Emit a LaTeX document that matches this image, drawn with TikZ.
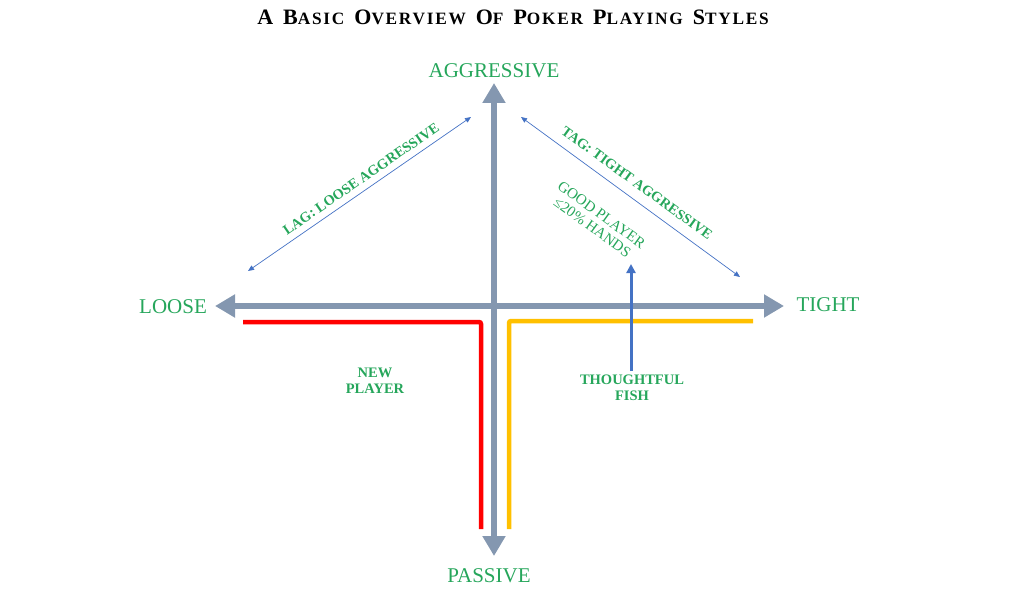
\documentclass[tikz,border=0pt]{standalone}
\usepackage{fontspec}
\setmainfont{Liberation Serif}
\usetikzlibrary{arrows.meta}
\definecolor{lblgreen}{RGB}{38,166,91}
\definecolor{axisgray}{RGB}{132,151,176}
\definecolor{linkblue}{RGB}{68,114,196}
\definecolor{newred}{RGB}{255,0,0}
\definecolor{fishgold}{RGB}{255,192,0}
\newcommand\tsc[2]{{\fontsize{22}{24}\selectfont #1}{\fontsize{17.3}{20}\selectfont #2}}
\begin{document}
\begin{tikzpicture}[x=1pt,y=-1pt,
  axis/.style={draw=axisgray,line width=6.5pt,-{Triangle[width=22pt,length=20pt]}},
  thinlink/.style={draw=linkblue,line width=0.7pt,{Triangle[width=5pt,length=6pt]}-{Triangle[width=5pt,length=6pt]}},
  bigword/.style={text=lblgreen,font=\fontsize{21}{23}\selectfont,inner sep=0pt},
  smallword/.style={text=lblgreen,font=\bfseries\fontsize{14.5}{16}\selectfont,inner sep=0pt,align=center},
  slantword/.style={text=lblgreen,font=\bfseries\fontsize{14.3}{16}\selectfont,inner sep=0pt,align=center},
  slantthin/.style={text=lblgreen,font=\fontsize{15}{15.5}\selectfont,inner sep=0pt,align=center},
  band/.style={line width=4.5pt,rounded corners=2pt}]
\useasboundingbox (0,0) rectangle (1024,599);
% title
\node[anchor=base,inner sep=0pt,font=\bfseries\fontsize{20}{24}\selectfont\addfontfeature{LetterSpace=10}] (title) at (513,25) {\tsc{A}{}\hspace{10pt}\tsc{B}{ASIC}\hspace{10pt}\tsc{O}{VERVIEW}\hspace{10pt}\tsc{O}{F}\hspace{10pt}\tsc{P}{OKER}\hspace{10pt}\tsc{P}{LAYING}\hspace{10pt}\tsc{S}{TYLES}};
% axis endpoints
\coordinate (vtop) at (494,83);
\coordinate (vbot) at (494,556);
\coordinate (hleft) at (215,306);
\coordinate (hright) at (784,306);
\coordinate (centre) at (494,306);
% coloured bands
\coordinate (r1) at (243,322);
\coordinate (r2) at (481,322);
\coordinate (r3) at (481,529);
\coordinate (y1) at (753,321);
\coordinate (y2) at (509,321);
\coordinate (y3) at (509,529);
\draw[band,newred] (r1) -- (r2) -- (r3);
\draw[band,fishgold] (y1) -- (y2) -- (y3);
% axes
\draw[axis] (centre) ++(0,-6) -- (vtop);
\draw[axis] (centre) ++(0,-6) -- (vbot);
\draw[axis] (centre) -- (hleft);
\draw[axis] (centre) -- (hright);
% labels on axes
\node[bigword,anchor=base] (aggr) at (494,78) {AGGRESSIVE};
\node[bigword,anchor=base] (pass) at (489,582) {PASSIVE};
\node[bigword,anchor=base] (loose) at (173,313) {LOOSE};
\node[bigword,anchor=base] (tight) at (828,311) {TIGHT};
% diagonal links
\coordinate (lagA) at (248,271);
\coordinate (lagB) at (471,117);
\coordinate (tagA) at (521,117);
\coordinate (tagB) at (740,277);
\draw[thinlink] (lagA) -- (lagB);
\draw[thinlink] (tagA) -- (tagB);
\node[slantword,rotate=34.5] (lag) at (361,179) {LAG: LOOSE AGGRESSIVE};
\node[slantword,rotate=-36] (tag) at (637,183) {TAG: TIGHT AGGRESSIVE};
\node[slantthin,rotate=-36] (good) at (597,221) {GOOD PLAYER\\≤20\% HANDS};
% thoughtful fish arrow
\node[smallword] (fish) at (632,388) {THOUGHTFUL\\FISH};
\node[smallword] (newp) at (375,381) {NEW\\PLAYER};
\coordinate (fishtip) at (631,264);
\coordinate (fishtail) at (631,371);
\draw[draw=linkblue,line width=3pt,-{Triangle[width=9pt,length=9pt]}] (fishtail) -- (fishtip);
\end{tikzpicture}
\end{document}
